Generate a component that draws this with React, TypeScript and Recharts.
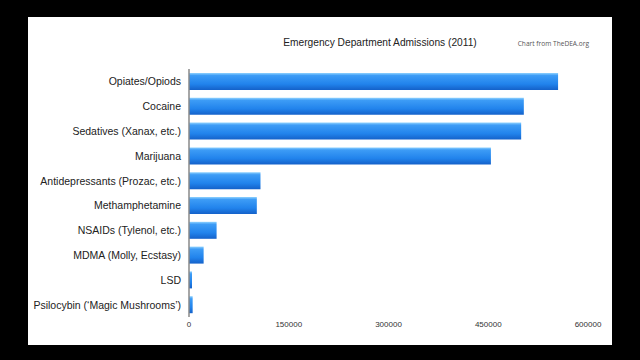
import React from "react";
import { BarChart, Bar, XAxis, YAxis } from "recharts";

const DRUGS = [
  "Opiates/Opiods",
  "Cocaine",
  "Sedatives (Xanax, etc.)",
  "Marijuana",
  "Antidepressants (Prozac, etc.)",
  "Methamphetamine",
  "NSAIDs (Tylenol, etc.)",
  "MDMA (Molly, Ecstasy)",
  "LSD",
  "Psilocybin (\u2018Magic Mushrooms\u2019)",
];

const ADMISSIONS = [555000, 503500, 499500, 454000, 107500, 102000, 41500, 22000, 4500, 5500];

const X_TICKS = [0, 150000, 300000, 450000, 600000];

const data = DRUGS.map((name, i) => ({ name, admissions: ADMISSIONS[i] }));

const FONT = '"Liberation Sans", Arial, Helvetica, sans-serif';

// single-line category label, right aligned against the axis
const CategoryTick = ({ x, y, payload }: any) => (
  <text
    x={x}
    y={y}
    textAnchor="end"
    dominantBaseline="central"
    fontSize={10.5}
    fill="#222"
    fontFamily={FONT}
  >
    {payload.value}
  </text>
);

export default function App() {
  return (
    <div
      style={{
        position: "fixed",
        left: 0,
        top: 0,
        width: 640,
        height: 360,
        background: "#000",
        fontFamily: FONT,
      }}
    >
      <div
        style={{
          position: "absolute",
          left: 28,
          top: 17,
          width: 584,
          height: 328,
          background: "#fff",
        }}
      >
        {/* title + source note */}
        <div
          style={{
            position: "absolute",
            left: 232,
            width: 240,
            top: 20,
            fontSize: 10.2,
            color: "#222",
            textAlign: "center",
            whiteSpace: "nowrap",
          }}
        >
          Emergency Department Admissions (2011)
        </div>
        <div
          style={{
            position: "absolute",
            right: 23,
            top: 22,
            fontSize: 6.6,
            color: "#555",
            fontFamily: '"Open Sans", sans-serif',
            whiteSpace: "nowrap",
          }}
        >
          Chart from TheDEA.org
        </div>

        <div style={{ position: "absolute", left: 0, top: 0 }}>
          <BarChart
            width={584}
            height={328}
            data={data}
            layout="vertical"
            margin={{ top: 52, right: 24, bottom: 8, left: 0 }}
            barSize={17}
          >
            <defs>
              <linearGradient id="barBlue" x1="0" y1="0" x2="0" y2="1">
                <stop offset="0%" stopColor="#8fd2ff" />
                <stop offset="15%" stopColor="#3d9cf6" />
                <stop offset="65%" stopColor="#2183ec" />
                <stop offset="100%" stopColor="#1461c9" />
              </linearGradient>
            </defs>
            <XAxis
              type="number"
              domain={[0, 600000]}
              ticks={X_TICKS}
              axisLine={false}
              tickLine={false}
              tickSize={0}
              tickMargin={4}
              height={20}
              tick={{ fontSize: 8, fill: "#333", fontFamily: FONT }}
            />
            <YAxis
              type="category"
              dataKey="name"
              width={161}
              axisLine={{ stroke: "#888", strokeWidth: 1.5 }}
              tickLine={false}
              tickSize={6}
              tickMargin={2}
              interval={0}
              tick={<CategoryTick />}
            />
            <Bar dataKey="admissions" fill="url(#barBlue)" isAnimationActive={false} />
          </BarChart>
        </div>
      </div>
    </div>
  );
}
